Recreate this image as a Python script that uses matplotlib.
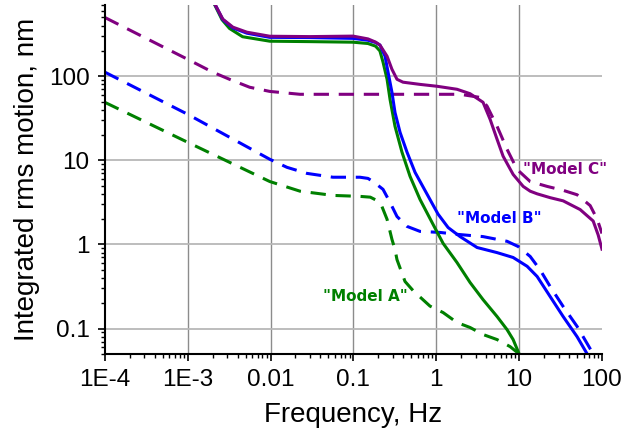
import numpy as np
import matplotlib
matplotlib.use("Agg")
from matplotlib import pyplot as plt
from matplotlib.ticker import LogLocator, FixedLocator, FixedFormatter, NullFormatter

# --- data (frequency in Hz, rms motion in nm) ---
freq_a = [0.0018, 0.0021, 0.0026, 0.0032, 0.0046, 0.0098, 0.03, 0.099, 0.15, 0.185, 0.209,
          0.228, 0.255, 0.277, 0.318, 0.386, 0.483, 0.637, 0.889, 1.21, 1.78, 2.56, 3.67,
          5.42, 7.16, 8.47, 10]
rms_a = [1000, 720, 470, 370, 295, 261, 258, 254, 245, 228, 200,
         147, 92, 53, 25.4, 12.5, 6.45, 3.43, 1.83, 1.03, 0.61, 0.353, 0.221,
         0.139, 0.097, 0.074, 0.05]

freq_a_dash = [1e-4, 1e-3, 0.0098, 0.0227, 0.0566, 0.12, 0.16, 0.19, 0.221, 0.255, 0.292,
               0.318, 0.336, 0.42, 0.53, 0.84, 1.21, 1.78, 2.56, 3.67, 5.42, 7.79, 10]
rms_a_dash = [49, 16.4, 5.6, 4.3, 3.83, 3.73, 3.65, 3.35, 2.83, 1.99, 1.15,
              0.87, 0.66, 0.363, 0.28, 0.185, 0.155, 0.118, 0.103, 0.085, 0.074, 0.061, 0.05]

freq_b = [0.0018, 0.00213, 0.00266, 0.00352, 0.00519, 0.0098, 0.03, 0.099, 0.15, 0.185,
          0.209, 0.241, 0.262, 0.292, 0.318, 0.366, 0.444, 0.555, 0.76, 1.05, 1.39, 1.94,
          3.11, 5.42, 8.47, 12.5, 16.5, 23.7, 34.0, 50.1, 66.2]
rms_b = [1100, 720, 470, 375, 325, 290, 288, 282, 268, 252,
         235, 173, 112, 64.5, 37, 21.5, 12.5, 7.2, 4.1, 2.3, 1.59, 1.24,
         0.92, 0.80, 0.70, 0.55, 0.416, 0.24, 0.139, 0.080, 0.05]

freq_b_dash = [1e-4, 1e-3, 0.0098, 0.0158, 0.0275, 0.0566, 0.12, 0.15, 0.173, 0.228, 0.277,
               0.336, 0.444, 0.637, 1.11, 1.78, 3.67, 7.16, 9.73, 13.6, 17.9, 23.7, 34.0,
               50.1, 78.3]
rms_b_dash = [112, 35.3, 10.3, 8.26, 7.0, 6.3, 6.3, 6.1, 5.6, 4.52, 3.16,
              2.15, 1.64, 1.43, 1.39, 1.32, 1.24, 1.09, 0.946, 0.72, 0.50, 0.316, 0.183,
              0.106, 0.05]

freq_c = [0.0018, 0.00213, 0.00266, 0.00352, 0.00519, 0.0098, 0.03, 0.099, 0.15, 0.185,
          0.209, 0.255, 0.292, 0.336, 0.397, 0.637, 1.02, 1.78, 2.56, 3.67, 4.47, 5.42,
          6.41, 8.47, 11.2, 13.6, 16.5, 23.7, 34.0, 54.5, 78.3, 89.9, 100]
rms_c = [1100, 720, 477, 383, 334, 299, 296, 300, 278, 255,
         235, 173, 121, 92, 85, 80, 76, 70, 62, 49, 30.7, 17.8,
         11.2, 6.8, 4.9, 4.3, 4.0, 3.6, 3.3, 2.6, 1.9, 1.3, 0.88]

freq_c_dash = [1e-4, 1e-3, 0.002, 0.0032, 0.0056, 0.0098, 0.0227, 0.1, 1.0, 1.94, 3.38,
               4.11, 5.42, 7.16, 9.46, 13.6, 21.8, 34.0, 50.1, 72.0, 87.5, 100]
rms_c_dash = [500, 159, 112, 92, 74, 66, 61, 61, 61, 61, 56,
              44, 25.4, 13.5, 7.8, 5.6, 4.9, 4.4, 3.9, 2.9, 2.0, 1.35]

x_ticks = [1e-4, 1e-3, 1e-2, 1e-1, 1, 10, 100]
x_tick_labels = ["1E-4", "1E-3", "0.01", "0.1", "1", "10", "100"]
y_ticks = [0.1, 1, 10, 100]
y_tick_labels = ["0.1", "1", "10", "100"]

purple = '#800080'
blue = '#0000ff'
green = '#008000'

plt.rcParams['font.family'] = ['Liberation Sans', 'DejaVu Sans']

fig = plt.figure(figsize=(6.35, 4.30), dpi=100)
ax = fig.add_axes([0.165, 0.177, 0.783, 0.811])

# grid lines drawn by hand so the right edge stays open
for xv in x_ticks[1:-1]:
    ax.axvline(xv, color='#8c8c8c', lw=1.0, zorder=0)
for yv in y_ticks:
    ax.axhline(yv, color='#b8b8b8', lw=1.3, zorder=0)

lw = 2.2
dash = (5, 3.2)
ax.plot(freq_c_dash, rms_c_dash, color=purple, lw=lw, dashes=dash)
ax.plot(freq_b_dash, rms_b_dash, color=blue, lw=lw, dashes=dash)
ax.plot(freq_a_dash, rms_a_dash, color=green, lw=lw, dashes=dash)
ax.plot(freq_a, rms_a, color=green, lw=lw)
ax.plot(freq_b, rms_b, color=blue, lw=lw)
ax.plot(freq_c, rms_c, color=purple, lw=lw)

ax.set_xscale('log')
ax.set_yscale('log')
ax.set_xlim(1e-4, 100)
ax.set_ylim(0.05, 700)

ax.xaxis.set_major_locator(FixedLocator(x_ticks))
ax.xaxis.set_major_formatter(FixedFormatter(x_tick_labels))
ax.xaxis.set_minor_locator(LogLocator(base=10, subs=np.arange(2, 10), numticks=20))
ax.xaxis.set_minor_formatter(NullFormatter())
ax.yaxis.set_major_locator(FixedLocator(y_ticks))
ax.yaxis.set_major_formatter(FixedFormatter(y_tick_labels))
ax.yaxis.set_minor_locator(LogLocator(base=10, subs=np.arange(2, 10), numticks=20))
ax.yaxis.set_minor_formatter(NullFormatter())

for side in ('top', 'right'):
    ax.spines[side].set_visible(False)
for side in ('left', 'bottom'):
    ax.spines[side].set_linewidth(1.5)

ax.tick_params(which='major', direction='out', length=5, width=1.2, labelsize=17.5, pad=6)
ax.tick_params(which='minor', direction='out', length=3, width=1.0)

ax.set_xlabel('Frequency, Hz', fontsize=20, labelpad=8)
ax.set_ylabel('Integrated rms motion, nm', fontsize=20, labelpad=6)

label_font = dict(fontsize=11, fontweight='bold', family=['DejaVu Sans'])
ax.text(11.2, 7.8, '"Model C"', color=purple, ha='left', va='center', clip_on=False, **label_font)
ax.text(1.78, 2.05, '"Model B"', color=blue, ha='left', va='center', **label_font)
ax.text(0.043, 0.24, '"Model A"', color=green, ha='left', va='center', **label_font)

fig.savefig('out.png', dpi=100)
